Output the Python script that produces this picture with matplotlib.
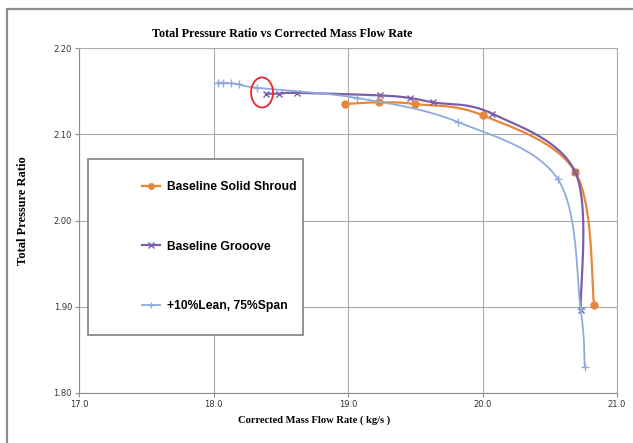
import numpy as np
import matplotlib
matplotlib.use("Agg")
import matplotlib.pyplot as plt
from matplotlib.patches import Ellipse, Rectangle
from matplotlib.lines import Line2D

# data
solid_x = [18.98, 19.23, 19.50, 20.00, 20.69, 20.83]
solid_y = [2.135, 2.137, 2.135, 2.122, 2.056, 1.902]

groove_x = [18.39, 18.49, 18.62, 19.24, 19.46, 19.63, 20.07, 20.69, 20.73]
groove_y = [2.147, 2.147, 2.148, 2.145, 2.142, 2.137, 2.124, 2.056, 1.896]

lean_x = [18.03, 18.07, 18.13, 18.19, 18.32, 19.07, 19.82, 20.56, 20.73, 20.76]
lean_y = [2.160, 2.160, 2.159, 2.158, 2.154, 2.142, 2.114, 2.048, 1.897, 1.830]

labels = ["Baseline Solid Shroud", "Baseline Grooove", "+10%Lean, 75%Span"]
colors = ["#E8873A", "#7B5EA7", "#8FAADC"]

x_ticks = [17.0, 18.0, 19.0, 20.0, 21.0]
y_ticks = [1.80, 1.90, 2.00, 2.10, 2.20]

W, H = 633, 443
fig = plt.figure(figsize=(W / 100, H / 100), dpi=100)
ax = fig.add_axes([79 / W, 1 - 393 / H, 538 / W, 345 / H])
ax.set_xlim(17.0, 21.0)
ax.set_ylim(1.80, 2.20)


def smooth(xs, ys, n=30):
    # excel-like smoothed line (catmull-rom as bezier), done in pixel space
    sx = 538 / 4.0
    sy = 345 / 0.4
    p = np.column_stack([np.asarray(xs) * sx, np.asarray(ys) * sy])
    p = np.vstack([p[0], p, p[-1]])
    out = []
    t = np.linspace(0, 1, n)[:, None]
    for i in range(1, len(p) - 2):
        p0, p1, p2, p3 = p[i - 1], p[i], p[i + 1], p[i + 2]
        c1 = p1 + (p2 - p0) / 6.0
        c2 = p2 - (p3 - p1) / 6.0
        seg = ((1 - t) ** 3) * p1 + 3 * ((1 - t) ** 2) * t * c1 + 3 * (1 - t) * t ** 2 * c2 + t ** 3 * p2
        out.append(seg)
    out = np.vstack(out)
    return out[:, 0] / sx, out[:, 1] / sy


series = [(solid_x, solid_y, "o", 5, 1.6), (groove_x, groove_y, "x", 5, 1.6),
          (lean_x, lean_y, "+", 6, 1.3)]
handles = []
for (xs, ys, mk, ms, lw), c, lab in zip(series, colors, labels):
    cx, cy = smooth(xs, ys)
    ax.plot(cx, cy, color=c, lw=lw, zorder=3)
    ax.plot(xs, ys, ls="none", marker=mk, ms=ms, color=c, mew=1.0, zorder=3)
    handles.append(Line2D([], [], color=c, lw=lw, marker=mk, ms=ms - 1, mew=1.0))

ax.add_patch(Ellipse((18.361, 2.1484), 0.1636, 0.0348, fill=False,
                     edgecolor="#E8262B", lw=1.3, zorder=4))

ax.set_xticks(x_ticks)
ax.set_yticks(y_ticks)
ax.set_xticklabels(["%.1f" % v for v in x_ticks])
ax.set_yticklabels(["%.2f" % v for v in y_ticks])
ax.grid(True, color="#ABABAB", lw=0.8)
ax.set_axisbelow(True)
ax.tick_params(direction="out", length=3, width=0.8, color="#8C8C8C",
               labelsize=6, labelcolor="#333333", pad=2)
for s in ax.spines.values():
    s.set_color("#ABABAB")
    s.set_linewidth(0.8)
ax.spines["left"].set_color("#8C8C8C")
ax.spines["bottom"].set_color("#8C8C8C")

fig.text(282 / W, 1 - 34 / H, "Total Pressure Ratio vs Corrected Mass Flow Rate",
         family="Liberation Serif", weight="bold", fontsize=8.7, ha="center", va="center")
fig.text(314 / W, 1 - 420 / H, "Corrected Mass Flow Rate ( kg/s )",
         family="Liberation Serif", weight="bold", fontsize=7.6, ha="center", va="center")
fig.text(23 / W, 1 - 211 / H, "Total Pressure Ratio", rotation=90,
         family="Liberation Serif", weight="bold", fontsize=9.0, ha="center", va="center")

# legend box
fig.patches.append(Rectangle((88 / W, 1 - 335 / H), 215 / W, 176 / H,
                             transform=fig.transFigure, facecolor="white",
                             edgecolor="#808080", lw=1.2, zorder=5))
leg = fig.legend(handles=handles, labels=labels, loc="upper left",
                 bbox_to_anchor=(142 / W, 1 - 181.5 / H), frameon=False,
                 borderpad=0, borderaxespad=0, labelspacing=3.9,
                 handlelength=1.5, handletextpad=0.6,
                 prop={"family": "Liberation Sans", "weight": "bold", "size": 8.7})
leg.set_zorder(6)

# outer chart frame
fig.add_artist(Line2D([7 / W, 7 / W, 1], [0, 1 - 9 / H, 1 - 9 / H],
                      transform=fig.transFigure, color="#8C8C8C", lw=1.6))

fig.savefig("out.png", dpi=100)
